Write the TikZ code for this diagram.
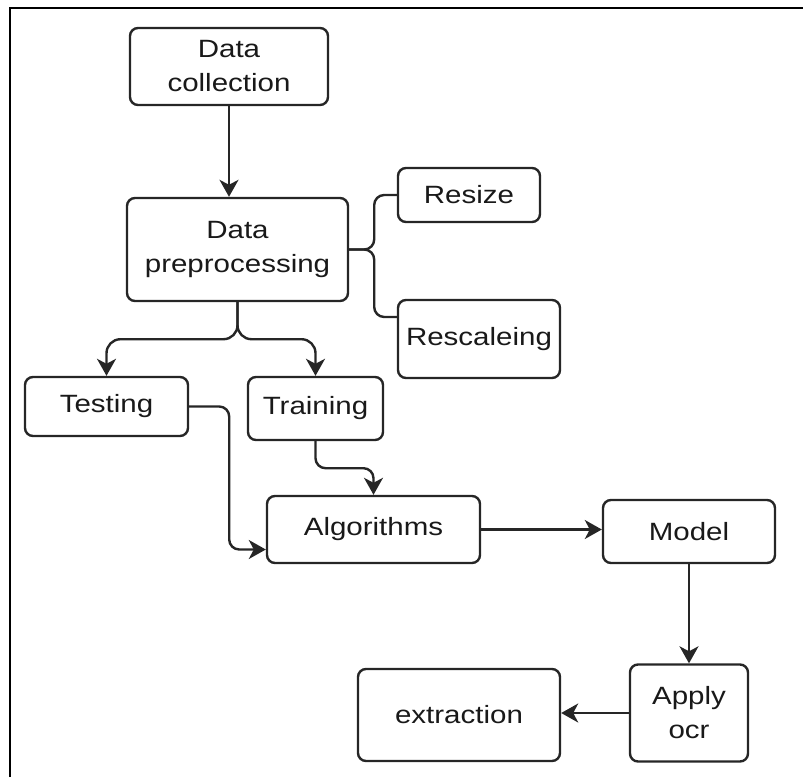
\documentclass[tikz,border=0pt]{standalone}
\usepackage{fontspec}
\setmainfont{Liberation Sans}[FakeStretch=1.18]
\usetikzlibrary{arrows.meta}

\tikzset{
  box/.style={draw=black!85, line width=2.4pt, rounded corners=8pt, align=center,
    inner sep=0pt, font=\fontsize{25}{34}\selectfont, text=black!90},
  line/.style={draw=black!85, line width=2.4pt},
  arr/.style={line, -{Stealth[length=17pt,width=19pt,inset=5pt]}}
}

\begin{document}
\begin{tikzpicture}[x=1pt, y=-1pt]
\useasboundingbox (0,0) rectangle (803,777);
\draw[line width=1.5pt] (10,777) -- (10,8) -- (803,8);

\node[box, minimum width=198pt, minimum height=77pt] (coll) at (229,66.5) {Data\\collection};
\node[box, minimum width=221pt, minimum height=103pt] (prep) at (237.5,249.5) {Data\\preprocessing};
\node[box, minimum width=142pt, minimum height=54pt] (resize) at (469,195) {Resize};
\node[box, minimum width=162pt, minimum height=78pt] (rescale) at (479,339) {Rescaleing};
\node[box, minimum width=163pt, minimum height=59pt] (test) at (106.5,406.5) {Testing};
\node[box, minimum width=135pt, minimum height=63pt] (train) at (315.5,408.5) {Training};
\node[box, minimum width=213pt, minimum height=67pt] (algo) at (373.5,529.5) {Algorithms};
\node[box, minimum width=172pt, minimum height=63pt] (model) at (689,531.5) {Model};
\node[box, minimum width=118pt, minimum height=97pt] (apply) at (689,713) {Apply\\ocr};
\node[box, minimum width=202pt, minimum height=92pt] (extr) at (459,715) {extraction};

\draw[arr] (coll.south) -- (coll.south |- prep.north);
\draw[arr, rounded corners=14pt] (prep.south) -- ++(0,37) -| (test.north);
\draw[arr, rounded corners=14pt] (prep.south) -- ++(0,37) -| (train.north);
\draw[line, rounded corners=10pt] (prep.east) -- ++(25,0) |- (resize.west);
\draw[line, rounded corners=10pt] (prep.east) -- ++(25,0) |- ([yshift=22pt]rescale.west);
\draw[arr, rounded corners=10pt] (test.east) -- ++(40,0) |- ([yshift=-20pt]algo.west);
\draw[arr, rounded corners=10pt] (train.south) -- ++(0,27) -| (algo.north);
\draw[arr] (algo.east) -- (algo.east -| model.west);
\draw[arr] (model.south) -- (apply.north);
\draw[arr] (apply.west) -- (apply.west -| extr.east);

\end{tikzpicture}
\end{document}
